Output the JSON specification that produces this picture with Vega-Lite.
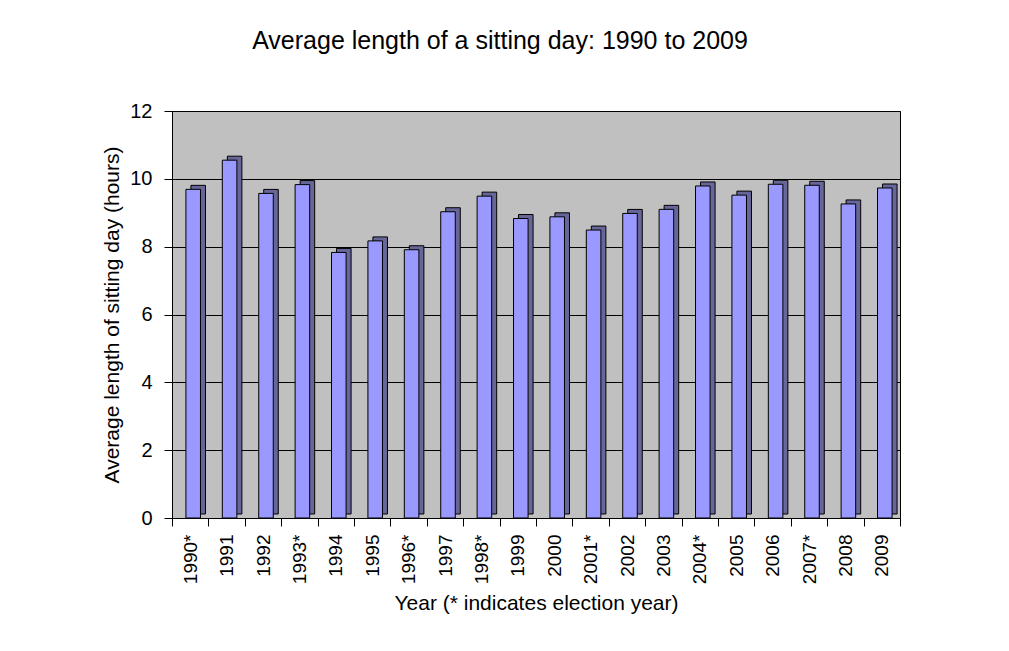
{
  "$schema": "https://vega.github.io/schema/vega-lite/v6.json",
  "width": 728,
  "height": 407,
  "autosize": "none",
  "padding": {"left": 172, "top": 111, "right": 109, "bottom": 133},
  "background": "white",
  "title": {
    "text": "Average length of a sitting day: 1990 to 2009",
    "font": "Liberation Sans",
    "fontSize": 25,
    "fontWeight": "normal",
    "color": "black",
    "anchor": "middle",
    "dx": -36,
    "offset": 47
  },
  "config": {
    "view": {"fill": "#C0C0C0", "stroke": "black", "strokeWidth": 1},
    "axis": {
      "labelFont": "Liberation Sans",
      "titleFont": "Liberation Sans",
      "labelColor": "black",
      "titleColor": "black",
      "titleFontWeight": "normal",
      "domainColor": "black",
      "tickColor": "black",
      "gridColor": "black",
      "gridOpacity": 1
    }
  },
  "data": {
    "values": [
      {"year": "1990*", "hours": 9.69},
      {"year": "1991", "hours": 10.55},
      {"year": "1992", "hours": 9.57},
      {"year": "1993*", "hours": 9.83},
      {"year": "1994", "hours": 7.83},
      {"year": "1995", "hours": 8.17},
      {"year": "1996*", "hours": 7.91},
      {"year": "1997", "hours": 9.03},
      {"year": "1998*", "hours": 9.49},
      {"year": "1999", "hours": 8.83},
      {"year": "2000", "hours": 8.88},
      {"year": "2001*", "hours": 8.49},
      {"year": "2002", "hours": 8.98},
      {"year": "2003", "hours": 9.1},
      {"year": "2004*", "hours": 9.79},
      {"year": "2005", "hours": 9.52},
      {"year": "2006", "hours": 9.84},
      {"year": "2007*", "hours": 9.81},
      {"year": "2008", "hours": 9.26},
      {"year": "2009", "hours": 9.73}
    ]
  },
  "encoding": {
    "x": {
      "field": "year",
      "type": "nominal",
      "sort": null,
      "scale": {"paddingInner": 0, "paddingOuter": 0},
      "axis": {
        "title": "Year (* indicates election year)",
        "titleFontSize": 21,
        "titlePadding": 9,
        "labelFontSize": 19,
        "labelAngle": -90,
        "labelAlign": "right",
        "labelBaseline": "middle",
        "labelPadding": 8,
        "tickBand": "extent",
        "tickSize": 8,
        "grid": false
      }
    },
    "y": {
      "field": "hours",
      "type": "quantitative",
      "scale": {"domain": [0, 12], "nice": false},
      "axis": {
        "title": "Average length of sitting day (hours)",
        "titleFontSize": 21,
        "titlePadding": 7,
        "labelFontSize": 20,
        "labelPadding": 12,
        "values": [0, 2, 4, 6, 8, 10, 12],
        "tickSize": 8,
        "grid": true,
        "gridWidth": 1
      }
    }
  },
  "layer": [
    {
      "mark": {
        "type": "bar",
        "width": {"band": 0.4},
        "fill": "#666699",
        "stroke": "black",
        "strokeWidth": 1,
        "xOffset": 8,
        "yOffset": -4
      }
    },
    {
      "mark": {
        "type": "bar",
        "width": {"band": 0.4},
        "fill": "#9999FF",
        "stroke": "black",
        "strokeWidth": 1,
        "xOffset": 3
      }
    }
  ]
}
